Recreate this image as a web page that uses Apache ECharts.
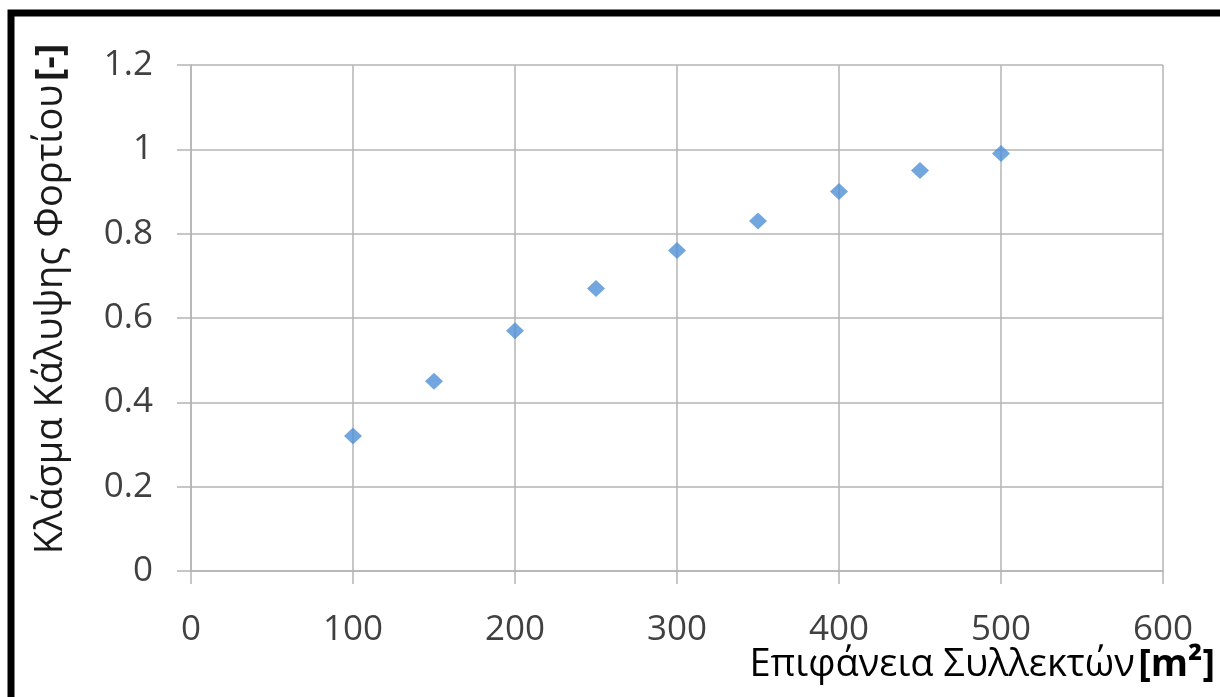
<!DOCTYPE html>
<html><head><meta charset="utf-8">
<script src="https://cdn.jsdelivr.net/npm/echarts@6/dist/echarts.min.js"></script>
<style>html,body{margin:0;padding:0;background:#fff}#c{width:1220px;height:697px}</style>
</head><body><div id="c"></div>
<script>
const areas = [100, 150, 200, 250, 300, 350, 400, 450, 500];
const fractions = [0.32, 0.45, 0.57, 0.67, 0.76, 0.83, 0.90, 0.95, 0.99];
const xTitle = 'Επιφάνεια Συλλεκτών';
const xUnit = '[m²]';
const yTitle = 'Κλάσμα Κάλυψης Φορτίου';
const yUnit = '[-]';

const font = '"Open Sans", "Noto Sans", sans-serif';
const chart = echarts.init(document.getElementById('c'), null, {renderer: 'canvas'});
const gridLine = {color: '#b4b4b4', width: 1.5};
const richTitle = {
  n: {fontSize: 38, fontFamily: font, color: '#1a1a1a'},
  b: {fontSize: 38, fontFamily: font, color: '#1a1a1a', fontWeight: 'bold'}
};
chart.setOption({
  animation: false,
  backgroundColor: '#fff',
  graphic: [{
    type: 'rect', silent: true,
    shape: {x: 11, y: 13, width: 1400, height: 1000},
    style: {fill: 'none', stroke: '#000', lineWidth: 7}
  }, {
    type: 'text', silent: true, right: 5, top: 646,
    style: {
      text: '{n|' + xTitle + '} {b|' + xUnit + '}',
      rich: richTitle
    }
  }],
  grid: {left: 191, right: 57, top: 65, bottom: 126, containLabel: false, outerBoundsMode: 'none'},
  xAxis: {
    type: 'value', min: 0, max: 600, interval: 100,
    axisLine: {show: true, lineStyle: gridLine},
    axisTick: {show: true, length: 13, lineStyle: gridLine},
    splitLine: {show: true, lineStyle: gridLine},
    axisLabel: {color: '#404040', fontSize: 35, fontFamily: font, margin: 42}
  },
  yAxis: {
    type: 'value', min: 0, max: 1.2, interval: 0.2,
    axisLine: {show: true, lineStyle: gridLine},
    axisTick: {show: true, length: 14, lineStyle: gridLine},
    splitLine: {show: true, lineStyle: gridLine},
    axisLabel: {color: '#404040', fontSize: 35, fontFamily: font, margin: 38,
      formatter: v => String(Math.round(v * 10) / 10)},
    name: '{n|' + yTitle + '} {b|' + yUnit + '}',
    nameLocation: 'middle', nameRotate: 90, nameGap: 121,
    nameTextStyle: {padding: [0, 0, 0, 38], rich: richTitle}
  },
  series: [{
    type: 'scatter',
    data: areas.map((a, i) => [a, fractions[i]]),
    symbol: 'diamond', symbolSize: [18, 17],
    itemStyle: {color: '#4f90d6'}
  }]
});
</script></body></html>
